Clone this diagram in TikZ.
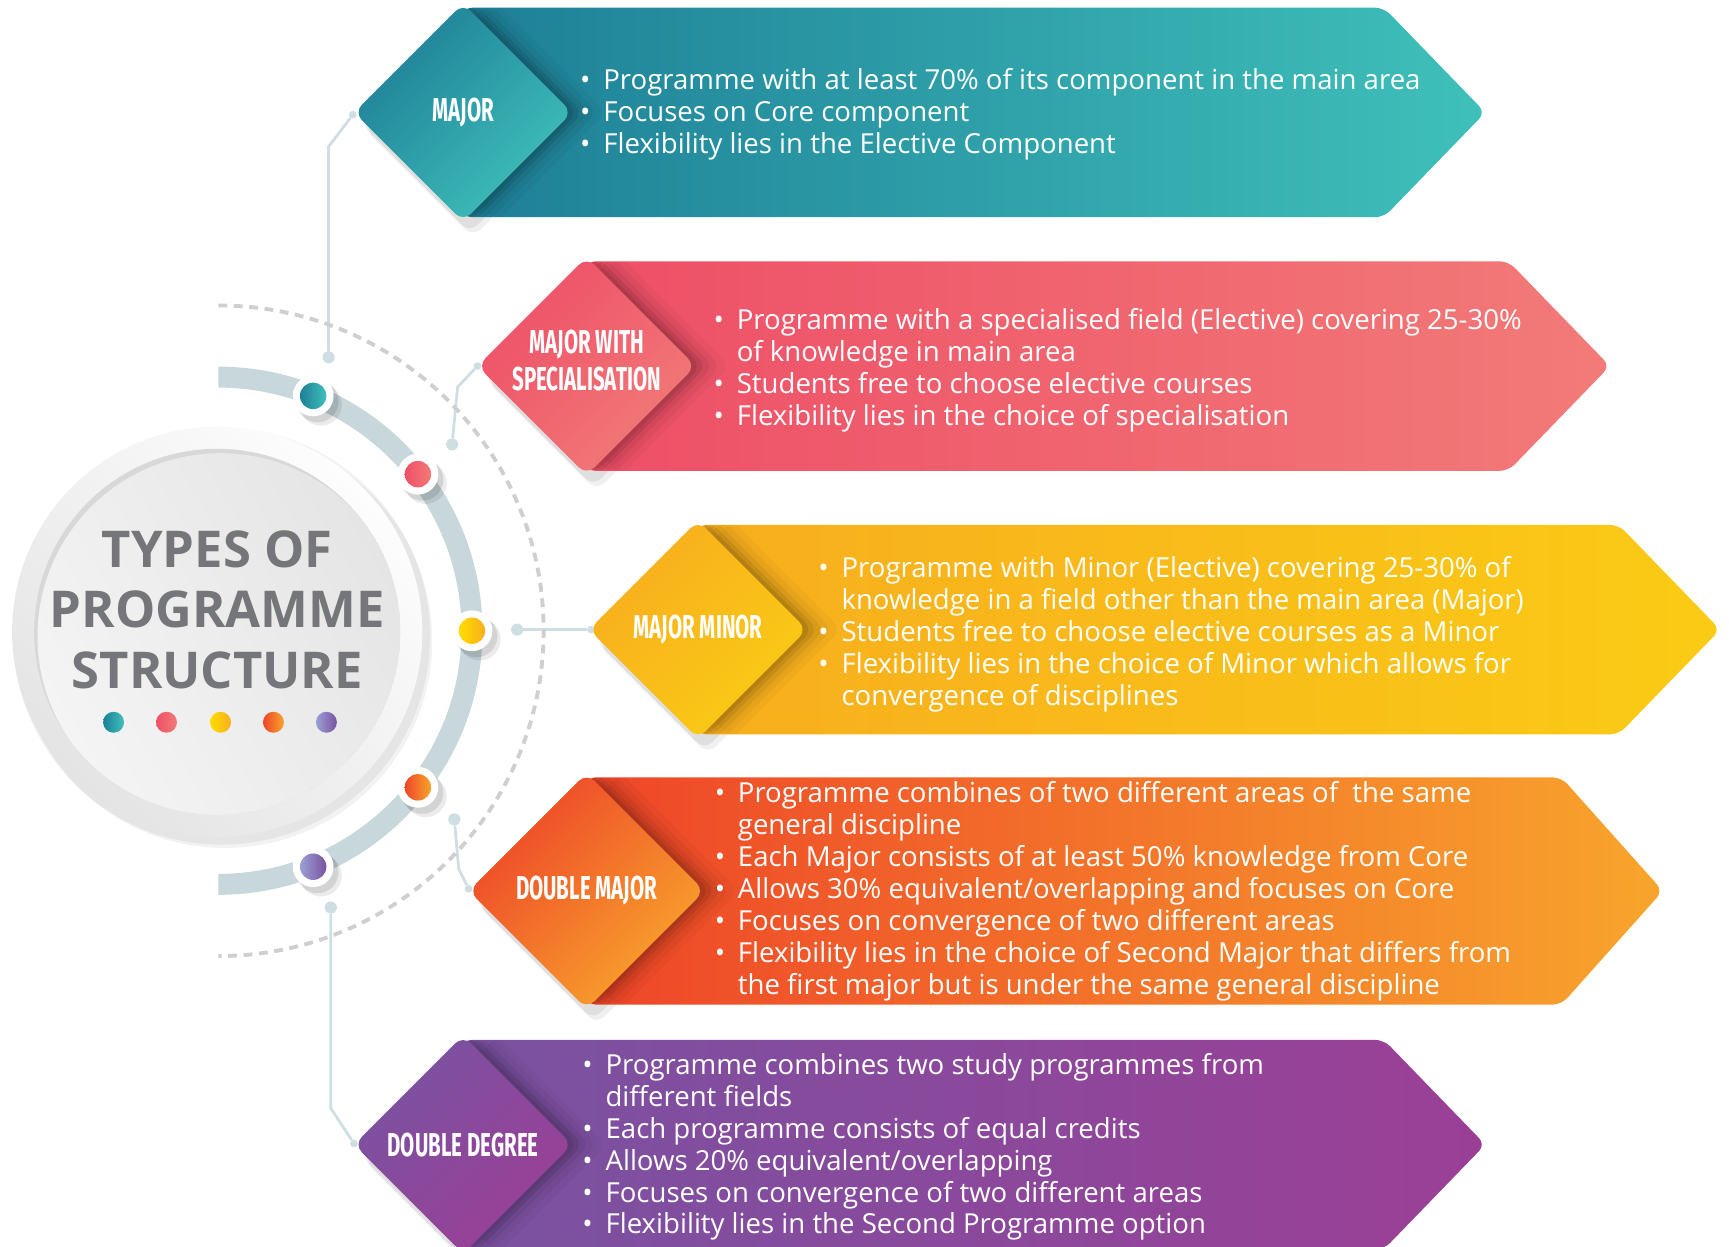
\documentclass[tikz,border=0pt]{standalone}
\usepackage{fontspec}
\setmainfont{Open Sans}
\newfontfamily\labfont[FakeStretch=0.62]{Fira Sans}
\usetikzlibrary{shapes.geometric,calc}

\definecolor{tealA}{HTML}{1E7F97}
\definecolor{tealB}{HTML}{3FC0BA}
\definecolor{pinkA}{HTML}{EE4F67}
\definecolor{pinkB}{HTML}{F27B78}
\definecolor{yelA}{HTML}{F8AE1E}
\definecolor{yelB}{HTML}{FACB15}
\definecolor{oraA}{HTML}{EE4529}
\definecolor{oraB}{HTML}{F8A52C}
\definecolor{purA}{HTML}{7A52A1}
\definecolor{purB}{HTML}{9B3F96}
\definecolor{purL}{HTML}{9AA0D4}
\definecolor{yelL}{HTML}{FFDD00}
\definecolor{lineC}{HTML}{CFDEE3}
\definecolor{arcC}{HTML}{C8D7DB}
\definecolor{dashC}{HTML}{CFCFCF}
\definecolor{titleC}{HTML}{75767A}
\definecolor{ringA}{HTML}{E4E4E4}
\definecolor{ringB}{HTML}{FDFDFD}
\definecolor{discEdge}{HTML}{D8D8D8}
\definecolor{discA}{HTML}{F4F4F4}
\definecolor{discB}{HTML}{E5E5E5}

\tikzset{
  bodytext/.style={text=white, align=left, anchor=west, inner sep=0pt,
    font=\fontsize{25}{29}\selectfont},
  labtext/.style={text=white, align=center, inner sep=0pt,
    font=\labfont\bfseries\fontsize{30}{33}\selectfont},
  diam/.style={diamond, aspect=1, inner sep=0pt, minimum width=#1,
    minimum height=#1, rounded corners=10pt},
  conn/.style={draw=lineC, line width=2.5pt},
  bigdot/.style={circle, fill=lineC, minimum size=11pt, inner sep=0pt},
  enddot/.style={circle, fill=lineC, minimum size=7pt, inner sep=0pt},
  smalldot/.style={circle, minimum size=19pt, inner sep=0pt},
  ringwhite/.style={circle, fill=white, minimum size=37pt, inner sep=0pt},
  ringcol/.style={circle, minimum size=24pt, inner sep=0pt},
  dshadow/.style={fill=black, opacity=#1, rounded corners=10pt},
}

\newcommand\bul{\makebox[21pt][l]{•}}
\newcommand\ind{\hspace*{21pt}}

% shifted copy of a diamond: #1 cx #2 cy #3 half diagonal #4 dx #5 dy #6 opacity
\newcommand\DiaShadow[6]{%
  \fill[dshadow=#6] (#1-#3-4+#4,#2+#5) -- (#1+#4,#2-#3-4+#5) -- (#1+#3+4+#4,#2+#5) -- (#1+#4,#2+#3+4+#5) -- cycle;
}

% #1 cx  #2 cy  #3 half diagonal  #4 corner x  #5 dark  #6 light  #7 name
\newcommand\ProgBox[7]{%
  \DiaShadow{#1}{#2}{#3}{6}{10}{.07}
  \DiaShadow{#1}{#2}{#3}{9}{14}{.06}
  \path[left color=#5, right color=#6, rounded corners=8pt]
    (#1,#2-#3) -- (#4,#2-#3) -- (#4+92,#2) -- (#4,#2+#3) -- (#1,#2+#3) -- cycle;
  \begin{scope}
    \clip (#1,#2-#3) -- (#4,#2-#3) -- (#4+92,#2) -- (#4,#2+#3) -- (#1,#2+#3) -- cycle;
    \DiaShadow{#1}{#2}{#3}{5}{0}{.09}
    \DiaShadow{#1}{#2}{#3}{10}{0}{.08}
    \DiaShadow{#1}{#2}{#3}{16}{0}{.06}
    \DiaShadow{#1}{#2}{#3}{23}{0}{.04}
    \DiaShadow{#1}{#2}{#3}{31}{0}{.03}
  \end{scope}
  \node[diam={2*#3pt+8pt}, top color=#5, bottom color=#6, shading angle=45] (#7) at (#1,#2) {};
}

% #1 name  #2 position  #3 left colour  #4 right colour
\newcommand\RingDot[4]{%
  \fill[black, opacity=.10] ($#2+(4,5)$) circle[radius=19];
  \fill[black, opacity=.08] ($#2+(7,8)$) circle[radius=19];
  \node[ringwhite] (#1) at #2 {};
  \node[ringcol, left color=#3, right color=#4] at #2 {};
}

\begin{document}
\begin{tikzpicture}[x=1pt, y=-1pt]
\useasboundingbox (0,0) rectangle (1568,1130);
\clip (0,0) rectangle (1568,1130);
\fill[white] (0,0) rectangle (1568,1130);

% ---------- connectors ----------
\node[bigdot] (c1a) at (298,324) {};
\coordinate (c1b) at (298,133);
\node[enddot] (c1c) at (320,104) {};
\draw[conn] (c1a) -- (c1b) -- (c1c);

\node[bigdot] (c2a) at (410,403) {};
\coordinate (c2b) at (415,351);
\node[enddot] (c2c) at (433,332) {};
\draw[conn] (c2a) -- (c2b) -- (c2c);

\node[bigdot] (c3a) at (469,571) {};
\node[enddot] (c3c) at (536,571) {};
\draw[conn] (c3a) -- (c3c);

\node[bigdot] (c4a) at (412,743) {};
\coordinate (c4b) at (416,788);
\node[enddot] (c4c) at (425,806) {};
\draw[conn] (c4a) -- (c4b) -- (c4c);

\node[bigdot] (c5a) at (300,823) {};
\coordinate (c5b) at (300,1005);
\node[enddot] (c5c) at (321,1037) {};
\draw[conn] (c5a) -- (c5b) -- (c5c);

% ---------- dashed arc ----------
\draw[dashC, line width=3.5pt, dash pattern=on 8pt off 6pt]
  (198,277) arc[start angle=-90, end angle=90, radius=295];

% ---------- grey band ----------
\draw[arcC, line width=19pt] (198,342) arc[start angle=-90, end angle=90, radius=230];

% ---------- central disc ----------
\fill[black, opacity=.05] (201,577) circle[radius=189];
\fill[black, opacity=.05] (204,581) circle[radius=188];
\shade[top color=ringA, bottom color=ringB, shading angle=135] (197,573) circle[radius=186];
\begin{scope}
  \clip (197,573) circle[radius=166];
  \fill[discEdge] (197,573) circle[radius=166];
  \shade[top color=discA, bottom color=discB, shading angle=120] (200,577) circle[radius=166];
\end{scope}
\node[text=titleC, align=center, inner sep=0pt,
      font=\bfseries\fontsize{46}{55}\selectfont] (title) at (197,553)
  {TYPES OF\\PROGRAMME\\STRUCTURE};
\node[smalldot, left color=tealA, right color=tealB] (m1) at (103,655) {};
\node[smalldot, left color=pinkA, right color=pinkB] (m2) at (151,655) {};
\node[smalldot, left color=yelL,  right color=yelA]  (m3) at (200,655) {};
\node[smalldot, left color=oraA,  right color=oraB]  (m4) at (248,655) {};
\node[smalldot, left color=purL,  right color=purA]  (m5) at (296,655) {};

% ---------- dots on the band ----------
\RingDot{r1}{(284,359)}{tealA}{tealB}
\RingDot{r2}{(379,430)}{pinkA}{pinkB}
\RingDot{r3}{(428,572)}{yelL}{yelA}
\RingDot{r4}{(379,714)}{oraA}{oraB}
\RingDot{r5}{(284,786)}{purL}{purA}

% ---------- boxes ----------
\ProgBox{420}{102}{95}{1255}{tealA}{tealB}{d1}
\node[labtext] (l1) at (d1) {MAJOR};
\node[bodytext] (t1) at (526,104) {%
\bul Programme with at least 70\% of its component in the main area\\
\bul Focuses on Core component\\
\bul Flexibility lies in the Elective Component};

\ProgBox{532}{332}{95}{1368}{pinkA}{pinkB}{d2}
\node[labtext] (l2) at (532,327) {MAJOR WITH\\SPECIALISATION};
\node[bodytext] (t2) at (647,336) {%
\bul Programme with a specialised field (Elective) covering 25-30\%\\
\ind of knowledge in main area\\
\bul Students free to choose elective courses\\
\bul Flexibility lies in the choice of specialisation};

\ProgBox{633}{571}{95}{1468}{yelA}{yelB}{d3}
\node[labtext] (l3) at (d3) {MAJOR MINOR};
\node[bodytext] (t3) at (742,575) {%
\bul Programme with Minor (Elective) covering 25-30\% of\\
\ind knowledge in a field other than the main area (Major)\\
\bul Students free to choose elective courses as a Minor\\
\bul Flexibility lies in the choice of Minor which allows for\\
\ind convergence of disciplines};

\ProgBox{532}{808}{103}{1416}{oraA}{oraB}{d4}
\node[labtext] (l4) at (d4) {DOUBLE MAJOR};
\node[bodytext] (t4) at (648,808) {%
\bul Programme combines of two different areas of\ \ the same\\
\ind general discipline\\
\bul Each Major consists of at least 50\% knowledge from Core\\
\bul Allows 30\% equivalent/overlapping and focuses on Core\\
\bul Focuses on convergence of two different areas\\
\bul Flexibility lies in the choice of Second Major that differs from\\
\ind the first major but is under the same general discipline};

\ProgBox{420}{1038}{95}{1255}{purA}{purB}{d5}
\node[labtext] (l5) at (d5) {DOUBLE DEGREE};
\node[bodytext] (t5) at (528,1040) {%
\bul Programme combines two study programmes from\\
\ind different fields\\
\bul Each programme consists of equal credits\\
\bul Allows 20\% equivalent/overlapping\\
\bul Focuses on convergence of two different areas\\
\bul Flexibility lies in the Second Programme option};

\end{tikzpicture}
\end{document}
